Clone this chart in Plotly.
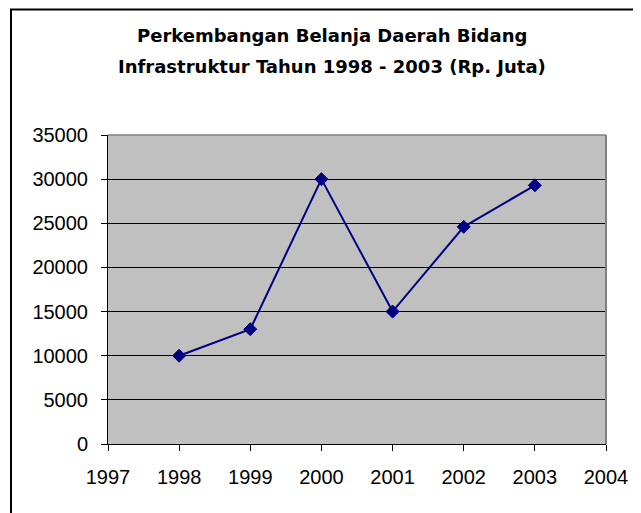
import plotly.graph_objects as go

years = [1998, 1999, 2000, 2001, 2002, 2003]
belanja = [10000, 13000, 30000, 15000, 24600, 29300]
title_lines = ["Perkembangan Belanja Daerah Bidang",
               "Infrastruktur Tahun 1998 - 2003 (Rp. Juta)"]

# page body has an 8px margin; work in reference pixel coords and offset
OFF = 8
W, H = 641 - OFF, 513 - OFF
L, R, T, B = 108 - OFF, 35, 135 - OFF, 69
pw, ph = W - L - R, H - T - B

def px_x(x):
    return (x - OFF - L) / pw

def px_y(y):
    return (H - B - (y - OFF)) / ph

fig = go.Figure()
fig.add_trace(go.Scatter(
    x=years, y=belanja, mode="lines+markers",
    line=dict(color="#000080", width=2),
    marker=dict(symbol="diamond", size=10, color="#000080",
                line=dict(color="#000080", width=1)),
    showlegend=False, hoverinfo="x+y"))

tick_font = dict(family="Arial", size=20, color="black")

fig.update_layout(
    width=W, height=H,
    margin=dict(l=L, r=R, t=T, b=B, autoexpand=False),
    paper_bgcolor="white", plot_bgcolor="#C0C0C0",
    xaxis=dict(range=[1997, 2004], dtick=1, tick0=1997, showgrid=False,
               zeroline=False, showline=True, linecolor="black", linewidth=1,
               ticks="outside", ticklen=6, tickcolor="black", tickwidth=1,
               tickfont=tick_font, ticklabelstandoff=9, tickformat="d"),
    yaxis=dict(range=[0, 35000], dtick=5000, tick0=0, showgrid=True,
               gridcolor="black", gridwidth=1, zeroline=False,
               showline=True, linecolor="black", linewidth=1,
               ticks="outside", ticklen=6, tickcolor="black", tickwidth=1,
               tickfont=tick_font, ticklabelstandoff=9, tickformat="d"),
    shapes=[
        dict(type="line", xref="paper", yref="paper", x0=0, x1=1, y0=1, y1=1,
             line=dict(color="#808080", width=1.5), layer="above"),
        dict(type="line", xref="paper", yref="paper", x0=1, x1=1, y0=0, y1=1,
             line=dict(color="#808080", width=2), layer="above"),
        dict(type="rect", xref="paper", yref="paper",
             x0=px_x(11), x1=1.3, y0=-0.5, y1=px_y(9.5),
             line=dict(color="black", width=2), fillcolor="rgba(0,0,0,0)",
             layer="above"),
    ],
    annotations=[
        dict(text=title_lines[0], xref="paper", yref="paper",
             x=px_x(332), y=px_y(35), xanchor="center", yanchor="middle",
             showarrow=False,
             font=dict(family="DejaVu Sans", size=18, color="black", weight="bold")),
        dict(text=title_lines[1], xref="paper", yref="paper",
             x=px_x(332), y=px_y(66), xanchor="center", yanchor="middle",
             showarrow=False,
             font=dict(family="DejaVu Sans", size=18, color="black", weight="bold")),
    ],
)

fig.write_html("out.html")
